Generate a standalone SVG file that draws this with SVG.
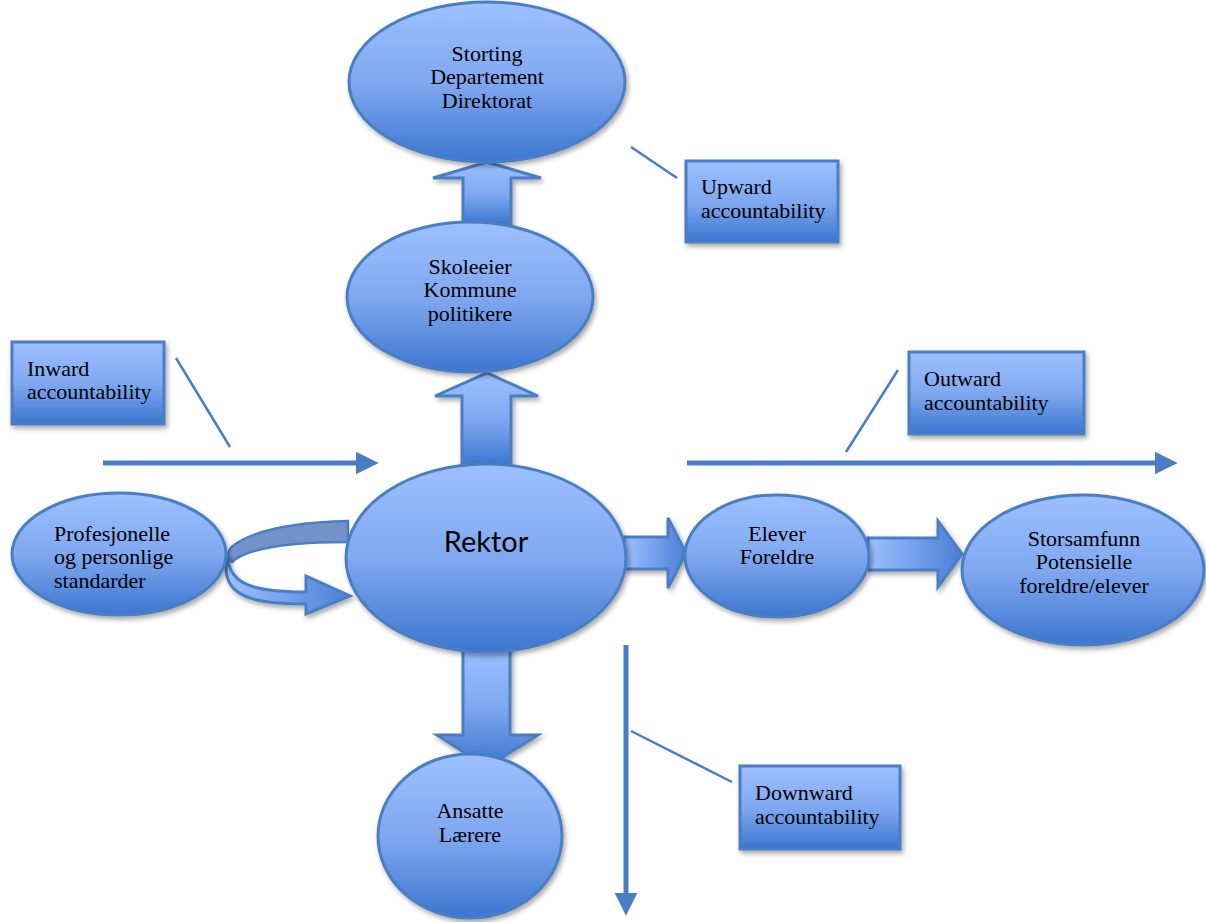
<svg xmlns="http://www.w3.org/2000/svg" width="1206" height="922" viewBox="0 0 1206 922">
<defs>
<linearGradient id="g" x1="0" y1="0" x2="0" y2="1">
<stop offset="0" stop-color="#9dc0ff"/>
<stop offset="0.5" stop-color="#80a8f0"/>
<stop offset="1" stop-color="#3c76cf"/>
</linearGradient>
<linearGradient id="gh" x1="0" y1="0" x2="1" y2="0">
<stop offset="0" stop-color="#9dc0ff"/>
<stop offset="1" stop-color="#4a80d6"/>
</linearGradient>
<filter id="sh" x="-20%" y="-20%" width="140%" height="140%">
<feDropShadow dx="2" dy="3" stdDeviation="2.5" flood-color="#000" flood-opacity="0.35"/>
</filter>
<marker id="ah" viewBox="0 0 10 10" refX="1" refY="5" markerWidth="4.6" markerHeight="5" orient="auto" markerUnits="strokeWidth">
<path d="M0,0 L10,5 L0,10 Z" fill="#4a7ec4"/>
</marker>
<style>
.n{fill:url(#g);stroke:#4a7ec4;stroke-width:3;filter:url(#sh)}
.ba{fill:url(#g);stroke:#4a7ec4;stroke-width:3;stroke-linejoin:miter;filter:url(#sh)}
.bh{fill:url(#gh);stroke:#4a7ec4;stroke-width:3;filter:url(#sh)}
.t{font-family:"Liberation Serif",serif;font-size:22px;fill:#000}
.c{text-anchor:middle}
.ln{stroke:#4a7ec4;stroke-width:5;fill:none}
.cl{stroke:#4a7ec4;stroke-width:2.5;fill:none}
</style>
</defs>

<g id="connectors">
<path class="ba" d="M463,225 L463,178 L433,178 L487,162 L541,178 L511,178 L511,225 Z"/>
<path class="ba" d="M462,466 L462,396 L435,396 L487,373 L538,396 L511,396 L511,466 Z"/>
<path class="ba" d="M463,646 L463,735 L437,735 L487,767 L538,735 L510,735 L510,646 Z"/>
<path class="bh" d="M624,537 L668,537 L668,518 L686,553 L668,588 L668,569 L624,569 Z"/>
<path class="bh" d="M868,538 L938,538 L938,521 L962,554 L938,587 L938,570 L868,570 Z"/>
<path d="M348,521 L348,542 C300,542 250,546 232,562 C226,556 228,549 234,545 C258,528 305,522 348,521 Z" fill="#7393c8" stroke="#4a7ec4" stroke-width="2.5"/>
<path class="bh" d="M228,556 C228,585 255,592 306,592 L306,576 L350,596 L306,614 L306,604 C255,604 226,597 226,568 Z"/>
<line class="ln" x1="103" y1="463" x2="358" y2="463" marker-end="url(#ah)"/>
<line class="ln" x1="687" y1="463" x2="1157" y2="463" marker-end="url(#ah)"/>
<line class="ln" x1="626" y1="645" x2="626" y2="895" marker-end="url(#ah)"/>
<line class="cl" x1="631" y1="147" x2="677" y2="178"/>
<line class="cl" x1="176" y1="358" x2="230" y2="447"/>
<line class="cl" x1="898" y1="370" x2="846" y2="452"/>
<line class="cl" x1="631" y1="731" x2="732" y2="782"/>
</g>

<g id="storting">
<ellipse class="n" cx="487" cy="82" rx="138" ry="80"/>
<text class="t c" x="487" y="61">Storting</text>
<text class="t c" x="487" y="84">Departement</text>
<text class="t c" x="487" y="108">Direktorat</text>
</g>
<g id="skoleeier">
<ellipse class="n" cx="470" cy="297" rx="123" ry="75"/>
<text class="t c" x="470" y="274">Skoleeier</text>
<text class="t c" x="470" y="297">Kommune</text>
<text class="t c" x="470" y="321">politikere</text>
</g>
<g id="rektor">
<ellipse class="n" cx="486" cy="558" rx="140" ry="94"/>
<text x="486" y="552" text-anchor="middle" font-family="Lato, 'Open Sans', sans-serif" font-size="29">Rektor</text>
</g>
<g id="profesjonelle">
<ellipse class="n" cx="119" cy="554" rx="107" ry="61"/>
<text class="t" x="54" y="541">Profesjonelle</text>
<text class="t" x="54" y="564">og personlige</text>
<text class="t" x="54" y="588">standarder</text>
</g>
<g id="elever">
<ellipse class="n" cx="777" cy="556" rx="92" ry="61"/>
<text class="t c" x="777" y="541">Elever</text>
<text class="t c" x="777" y="564">Foreldre</text>
</g>
<g id="storsamfunn">
<ellipse class="n" cx="1083" cy="570" rx="121" ry="75"/>
<text class="t c" x="1084" y="546">Storsamfunn</text>
<text class="t c" x="1084" y="569">Potensielle</text>
<text class="t c" x="1084" y="593">foreldre/elever</text>
</g>
<g id="ansatte">
<ellipse class="n" cx="470" cy="836" rx="92" ry="82"/>
<text class="t c" x="470" y="818">Ansatte</text>
<text class="t c" x="470" y="842">Lærere</text>
</g>

<g id="upward">
<rect class="n" x="686" y="161" width="152" height="81"/>
<text class="t" x="701" y="194">Upward</text>
<text class="t" x="701" y="218">accountability</text>
</g>
<g id="inward">
<rect class="n" x="12" y="342" width="152" height="82"/>
<text class="t" x="27" y="376">Inward</text>
<text class="t" x="27" y="399">accountability</text>
</g>
<g id="outward">
<rect class="n" x="909" y="352" width="175" height="82"/>
<text class="t" x="924" y="386">Outward</text>
<text class="t" x="924" y="410">accountability</text>
</g>
<g id="downward">
<rect class="n" x="740" y="766" width="160" height="83"/>
<text class="t" x="755" y="800">Downward</text>
<text class="t" x="755" y="824">accountability</text>
</g>
</svg>
